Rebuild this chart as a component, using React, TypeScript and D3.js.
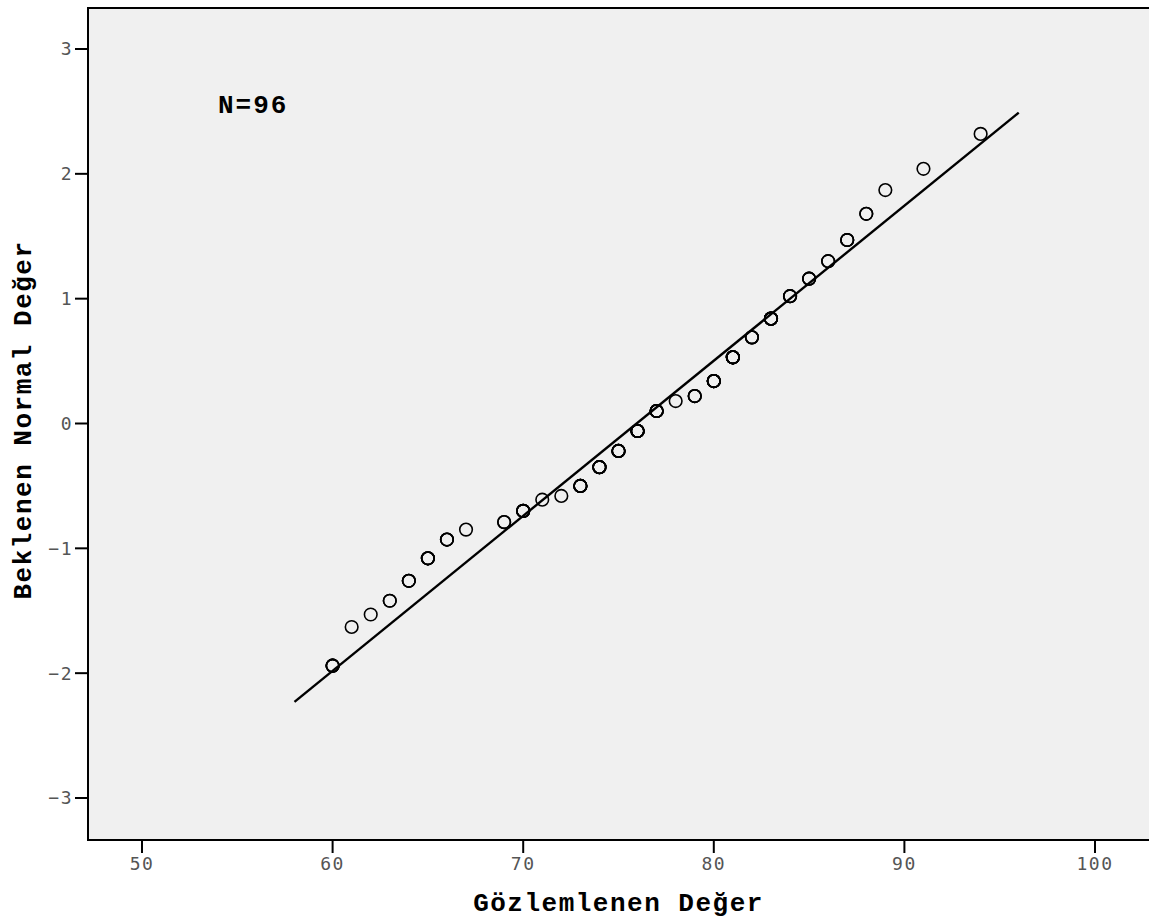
import React from "react";
import * as d3 from "d3";

// Observed values and their expected normal scores
const observed = [60, 61, 62, 63, 64, 65, 66, 67, 69, 70, 71, 72, 73, 74, 75, 76, 77, 78, 79, 80, 81, 82, 83, 84, 85, 86, 87, 88, 89, 91, 94];
const expectedNormal = [-1.94, -1.63, -1.53, -1.42, -1.26, -1.08, -0.93, -0.85, -0.79, -0.70, -0.61, -0.58, -0.50, -0.35, -0.22, -0.06, 0.10, 0.18, 0.22, 0.34, 0.53, 0.69, 0.84, 1.02, 1.16, 1.30, 1.47, 1.68, 1.87, 2.04, 2.32];
// Number of cases at each observed value (total 96)
const caseCounts = [4, 1, 1, 2, 3, 4, 3, 1, 2, 4, 1, 1, 5, 5, 5, 7, 5, 1, 3, 6, 7, 3, 6, 3, 3, 2, 3, 2, 1, 1, 1];

// Reference line endpoints
const refLineX = [58, 96];
const refLineY = [-2.23, 2.49];

const xTicks = [50, 60, 70, 80, 90, 100];
const yTicks = [-3, -2, -1, 0, 1, 2, 3];

const xTitle = "Gözlemlenen Değer";
const yTitle = "Beklenen Normal Değer";
const nLabel = "N=96";

const W = 1149;
const H = 921;
const plot = { left: 88, top: 8, right: 1150, bottom: 840 };

export default function App() {
  const x = d3.scaleLinear().domain([50, 100]).range([142, 1095]);
  const y = d3.scaleLinear().domain([-3, 3]).range([798, 49]);

  const line = d3
    .line<number>()
    .x((_, i) => x(refLineX[i]))
    .y((d) => y(d));

  const tickFont = "'DejaVu Sans Mono', monospace";
  const titleFont = "Courier New, Liberation Mono, Nimbus Mono PS, FreeMono, monospace";

  const circles: React.ReactNode[] = [];
  observed.forEach((v, i) => {
    for (let k = 0; k < caseCounts[i]; k++) {
      circles.push(
        <circle
          key={`${i}-${k}`}
          cx={x(v)}
          cy={y(expectedNormal[i])}
          r={6.3}
          fill="none"
          stroke="#000"
          strokeWidth={1.6}
        />
      );
    }
  });

  return (
    <svg
      width={W}
      height={H}
      style={{ position: "absolute", left: 0, top: 0, background: "#fff" }}
    >
      <rect
        x={plot.left}
        y={plot.top}
        width={plot.right - plot.left}
        height={plot.bottom - plot.top}
        fill="#f0f0f0"
      />
      <path d={line(refLineY) || ""} fill="none" stroke="#000" strokeWidth={2.4} />
      {circles}
      {/* frame */}
      <line x1={plot.left} x2={plot.right} y1={plot.top} y2={plot.top} stroke="#000" strokeWidth={2} />
      <line x1={plot.left} x2={plot.right} y1={plot.bottom} y2={plot.bottom} stroke="#000" strokeWidth={2} />
      <line x1={plot.left} x2={plot.left} y1={plot.top - 1} y2={plot.bottom + 1} stroke="#000" strokeWidth={2} />

      {/* x axis */}
      {xTicks.map((t) => (
        <g key={t}>
          <line x1={x(t)} x2={x(t)} y1={plot.bottom} y2={plot.bottom + 13} stroke="#000" strokeWidth={2} />
          <text
            x={x(t)}
            y={870}
            textAnchor="middle"
            fontFamily={tickFont}
            fontSize={18}
            letterSpacing={1.5}
            fill="#555"
          >
            {t}
          </text>
        </g>
      ))}

      {/* y axis */}
      {yTicks.map((t) => (
        <g key={t}>
          <line x1={plot.left - 13} x2={plot.left} y1={y(t)} y2={y(t)} stroke="#000" strokeWidth={2} />
          <text
            x={73}
            y={y(t)}
            dy="0.36em"
            textAnchor="end"
            fontFamily={tickFont}
            fontSize={18}
            letterSpacing={1.5}
            fill="#555"
          >
            {t < 0 ? `−${Math.abs(t)}` : `${t}`}
          </text>
        </g>
      ))}

      <text
        x={218}
        y={113}
        fontFamily={titleFont}
        fontWeight="bold"
        fontSize={26}
        letterSpacing={2}
        fill="#000"
      >
        {nLabel}
      </text>

      <text
        x={(plot.left + 1149) / 2}
        y={911}
        textAnchor="middle"
        fontFamily={titleFont}
        fontWeight="bold"
        fontSize={26}
        letterSpacing={1.5}
        fill="#000"
      >
        {xTitle}
      </text>

      <text
        transform={`translate(31, ${(plot.top + plot.bottom) / 2 - 4}) rotate(-90)`}
        textAnchor="middle"
        fontFamily={titleFont}
        fontWeight="bold"
        fontSize={26}
        letterSpacing={1.5}
        fill="#000"
      >
        {yTitle}
      </text>
    </svg>
  );
}
